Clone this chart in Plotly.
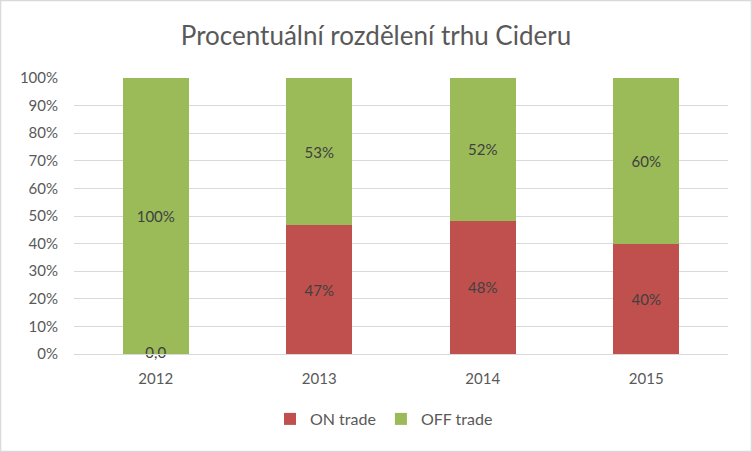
import plotly.graph_objects as go

years = ["2012", "2013", "2014", "2015"]
on_trade = [0.0, 46.6, 48.2, 39.9]
off_trade = [100.0, 53.4, 51.8, 60.1]
on_labels = ["", "47%", "48%", "40%"]
off_labels = ["100%", "53%", "52%", "60%"]
zero_label = "0,0"
y_ticks = [0, 10, 20, 30, 40, 50, 60, 70, 80, 90, 100]
y_tick_text = [f"{v}%" for v in y_ticks]

W, H = 752, 452
ml, mr, mt, mb = 74, 24, 78, 98
pw, ph = W - ml - mr, H - mt - mb

font_fam = "Lato, 'Open Sans', sans-serif"
txt_col = "#595959"
lbl_col = "#404040"

fig = go.Figure()
fig.add_trace(go.Bar(
    x=years, y=on_trade, name="ON trade", marker_color="#C0504D", marker_line_width=0,
    text=on_labels, textposition="inside", insidetextanchor="middle",
    textfont=dict(color=lbl_col, size=15, family=font_fam),
    width=0.405,
))
fig.add_trace(go.Bar(
    x=years, y=off_trade, name="OFF trade", marker_color="#9BBB59", marker_line_width=0,
    text=off_labels, textposition="inside", insidetextanchor="middle",
    textfont=dict(color=lbl_col, size=15, family=font_fam),
    width=0.405,
))
fig.add_trace(go.Scatter(
    x=[years[0]], y=[on_trade[0]], mode="text", text=[zero_label],
    textposition="middle center", showlegend=False, hoverinfo="skip",
    textfont=dict(color=lbl_col, size=15, family=font_fam), cliponaxis=False,
))

fig.update_layout(
    barmode="stack",
    width=W, height=H,
    margin=dict(l=ml, r=mr, t=mt, b=mb),
    paper_bgcolor="white", plot_bgcolor="white",
    font=dict(family=font_fam, color=txt_col, size=15),
    title=dict(text="Procentuální rozdělení trhu Cideru", x=0.5, xanchor="center",
               y=1 - 36 / H, yanchor="middle",
               font=dict(size=26, color=txt_col, family=font_fam)),
    xaxis=dict(type="category", showgrid=False, showline=True, linecolor="#D9D9D9", linewidth=1,
               ticks="outside", ticklen=11, tickcolor="rgba(0,0,0,0)",
               tickfont=dict(size=15, color=txt_col)),
    yaxis=dict(range=[0, 100], tickvals=y_ticks, ticktext=y_tick_text,
               showgrid=True, gridcolor="#D9D9D9", gridwidth=1, zeroline=False,
               ticks="outside", ticklen=12, tickcolor="rgba(0,0,0,0)",
               tickfont=dict(size=15, color=txt_col)),
    legend=dict(orientation="h", x=0.5 - 17 / pw, xanchor="center", y=-(419 - 354) / ph, yanchor="middle",
                font=dict(size=16, color=txt_col), bgcolor="rgba(0,0,0,0)",
                itemwidth=30, traceorder="normal"),
    bargap=0.6,
)
fig.add_shape(type="rect", xref="paper", yref="paper",
              x0=(0.5 - ml) / pw, x1=(W - 0.5 - ml) / pw,
              y0=(0.5 - mb) / ph, y1=(H - mb - 0.5) / ph,
              line=dict(color="#D9D9D9", width=1.5), layer="below")
fig.write_html("out.html")
